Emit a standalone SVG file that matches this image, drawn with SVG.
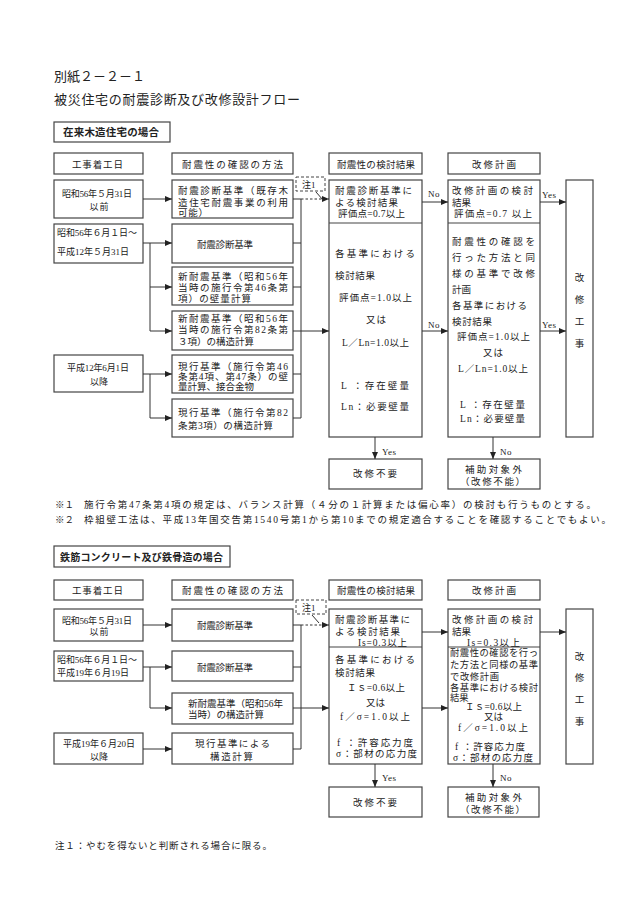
<svg xmlns="http://www.w3.org/2000/svg" width="630" height="915" viewBox="0 0 630 915">
<defs>
<style>
.b{fill:#fff;stroke:#444;stroke-width:1.2}
.d{fill:none;stroke:#444;stroke-width:1;stroke-dasharray:3,2}
.c{fill:none;stroke:#333;stroke-width:1}
.cd{fill:none;stroke:#333;stroke-width:1;stroke-dasharray:2.5,2}
.dv{stroke:#444;stroke-width:1.2}
.t{font-family:"Liberation Serif","Noto Sans CJK JP",serif;font-size:9.5px;fill:#222}
.dt{font-size:9px}
.s{font-size:9.3px}
.ti{font-size:13px}
.h{font-family:"Noto Sans CJK JP",sans-serif;font-weight:bold;font-size:10.5px;fill:#222}
.l{font-family:"Liberation Serif",serif;font-size:9px;fill:#222;letter-spacing:0.5px}
.m{text-anchor:middle}
</style>
<marker id="ah" markerWidth="7" markerHeight="6" refX="7" refY="3" orient="auto" markerUnits="userSpaceOnUse">
<path d="M0,0 L7,3 L0,6 z" fill="#222"/>
</marker>
</defs>
<rect width="630" height="915" fill="#fff"/>

<g id="title">
<text class="t ti" x="54" y="81" textLength="91" lengthAdjust="spacing">別紙２－２－１</text>
<text class="t ti" x="54" y="104" textLength="246" lengthAdjust="spacing">被災住宅の耐震診断及び改修設計フロー</text>
</g>

<!-- ===== Section 1 ===== -->
<g id="s1-label">
<rect class="b" x="54" y="122" width="116" height="20"/>
<text class="h" x="63" y="136" textLength="96" lengthAdjust="spacing">在来木造住宅の場合</text>
</g>

<g id="s1-hdr-start"><rect class="b" x="54" y="153" width="89" height="21"/><text class="t" x="72" y="167.5" textLength="51" lengthAdjust="spacing">工事着工日</text></g>
<g id="s1-hdr-method"><rect class="b" x="172" y="153" width="121" height="21"/><text class="t" x="182" y="167.5" textLength="101" lengthAdjust="spacing">耐震性の確認の方法</text></g>
<g id="s1-hdr-result"><rect class="b" x="329" y="153" width="93" height="21"/><text class="t" x="337" y="167.5" textLength="78" lengthAdjust="spacing">耐震性の検討結果</text></g>
<g id="s1-hdr-plan"><rect class="b" x="448" y="153" width="92" height="21"/><text class="t" x="472" y="167.5" textLength="44" lengthAdjust="spacing">改修計画</text></g>

<g id="s1-date1"><rect class="b" x="54" y="180" width="89" height="38"/>
<text class="t dt" x="62" y="197" textLength="70" lengthAdjust="spacing">昭和56年５月31日</text>
<text class="t dt m" x="99" y="210" textLength="19" lengthAdjust="spacing">以前</text></g>
<g id="s1-date2"><rect class="b" x="54" y="224" width="89" height="39"/>
<text class="t dt" x="57" y="236" textLength="80" lengthAdjust="spacing">昭和56年６月１日～</text>
<text class="t dt" x="57" y="255" textLength="72" lengthAdjust="spacing">平成12年５月31日</text></g>
<g id="s1-date3"><rect class="b" x="54" y="355" width="89" height="37"/>
<text class="t dt" x="67" y="371" textLength="62" lengthAdjust="spacing">平成12年6月1日</text>
<text class="t dt m" x="99" y="385" textLength="18" lengthAdjust="spacing">以降</text></g>

<g id="s1-m1"><rect class="b" x="172" y="180" width="121" height="38"/>
<text class="t" x="178" y="194" textLength="110" lengthAdjust="spacing">耐震診断基準（既存木</text>
<text class="t" x="178" y="206" textLength="110" lengthAdjust="spacing">造住宅耐震事業の利用</text>
<text class="t" x="178" y="216" textLength="30" lengthAdjust="spacing">可能）</text></g>
<g id="s1-m2"><rect class="b" x="172" y="224" width="121" height="39"/>
<text class="t" x="197" y="248" textLength="56" lengthAdjust="spacing">耐震診断基準</text></g>
<g id="s1-m3"><rect class="b" x="172" y="267" width="121" height="38"/>
<text class="t" x="178" y="279.5" textLength="110" lengthAdjust="spacing">新耐震基準（昭和56年</text>
<text class="t" x="178" y="290.5" textLength="110" lengthAdjust="spacing">当時の施行令第46条第</text>
<text class="t" x="178" y="301.5" textLength="73" lengthAdjust="spacing">項）の壁量計算</text></g>
<g id="s1-m4"><rect class="b" x="172" y="311" width="121" height="39"/>
<text class="t" x="178" y="322" textLength="110" lengthAdjust="spacing">新耐震基準（昭和56年</text>
<text class="t" x="178" y="333" textLength="110" lengthAdjust="spacing">当時の施行令第82条第</text>
<text class="t" x="178" y="345" textLength="76" lengthAdjust="spacing">３項）の構造計算</text></g>
<g id="s1-m5"><rect class="b" x="172" y="355" width="121" height="38"/>
<text class="t" x="178" y="369.5" textLength="110" lengthAdjust="spacing">現行基準（施行令第46</text>
<text class="t" x="178" y="379.5" textLength="110" lengthAdjust="spacing">条第4項、第47条）の壁</text>
<text class="t" x="178" y="389.5" textLength="76" lengthAdjust="spacing">量計算、接合金物</text></g>
<g id="s1-m6"><rect class="b" x="172" y="399" width="121" height="38"/>
<text class="t" x="178" y="415.5" textLength="110" lengthAdjust="spacing">現行基準（施行令第82</text>
<text class="t" x="178" y="428.5" textLength="95" lengthAdjust="spacing">条第3項）の構造計算</text></g>

<g id="s1-result"><rect class="b" x="329" y="180" width="93" height="257"/>
<line class="dv" x1="329" y1="223" x2="422" y2="223"/>
<text class="t" x="335" y="194" textLength="77" lengthAdjust="spacing">耐震診断基準に</text>
<text class="t" x="335" y="206" textLength="63" lengthAdjust="spacing">よる検討結果</text>
<text class="t" x="338" y="217" textLength="67" lengthAdjust="spacing">評価点=0.7以上</text>
<text class="t" x="335" y="257" textLength="80" lengthAdjust="spacing">各基準における</text>
<text class="t" x="335" y="279" textLength="40" lengthAdjust="spacing">検討結果</text>
<text class="t" x="339" y="301" textLength="73" lengthAdjust="spacing">評価点=1.0以上</text>
<text class="t" x="366" y="323" textLength="20" lengthAdjust="spacing">又は</text>
<text class="t" x="342" y="346" textLength="67" lengthAdjust="spacing">L／Ln=1.0以上</text>
<text class="t" x="341" y="389" textLength="68" lengthAdjust="spacing">L ：存在壁量</text>
<text class="t" x="341" y="410" textLength="68" lengthAdjust="spacing">Ln：必要壁量</text></g>

<g id="s1-plan"><rect class="b" x="448" y="180" width="92" height="257"/>
<line class="dv" x1="448" y1="223" x2="540" y2="223"/>
<text class="t" x="452" y="194" textLength="81" lengthAdjust="spacing">改修計画の検討</text>
<text class="t" x="452" y="206">結果</text>
<text class="t" x="454" y="217" textLength="78" lengthAdjust="spacing">評価点=0.7 以上</text>
<text class="t" x="452" y="245" textLength="83" lengthAdjust="spacing">耐震性の確認を</text>
<text class="t" x="452" y="261" textLength="83" lengthAdjust="spacing">行った方法と同</text>
<text class="t" x="452" y="277" textLength="83" lengthAdjust="spacing">様の基準で改修</text>
<text class="t" x="452" y="293">計画</text>
<text class="t" x="452" y="309" textLength="75" lengthAdjust="spacing">各基準における</text>
<text class="t" x="452" y="325" textLength="40" lengthAdjust="spacing">検討結果</text>
<text class="t" x="457" y="340" textLength="73" lengthAdjust="spacing">評価点=1.0以上</text>
<text class="t" x="483" y="356" textLength="20" lengthAdjust="spacing">又は</text>
<text class="t" x="458" y="372" textLength="70" lengthAdjust="spacing">L／Ln=1.0以上</text>
<text class="t" x="460" y="408" textLength="65" lengthAdjust="spacing">L ：存在壁量</text>
<text class="t" x="460" y="422" textLength="65" lengthAdjust="spacing">Ln：必要壁量</text></g>

<g id="s1-work"><rect class="b" x="566" y="180" width="27" height="257"/>
<text class="t m" x="579.5" y="281">改</text>
<text class="t m" x="579.5" y="303">修</text>
<text class="t m" x="579.5" y="325">工</text>
<text class="t m" x="579.5" y="347">事</text></g>

<g id="s1-nofix"><rect class="b" x="329" y="459" width="93" height="30"/>
<text class="t" x="353" y="477" textLength="44" lengthAdjust="spacing">改修不要</text></g>
<g id="s1-noaid"><rect class="b" x="448" y="459" width="92" height="30"/>
<text class="t" x="465" y="473" textLength="57" lengthAdjust="spacing">補助対象外</text>
<text class="t" x="460" y="485" textLength="65" lengthAdjust="spacing">（改修不能）</text></g>

<g id="s1-note1">
<rect class="d" x="296" y="177" width="29" height="14"/>
<text class="t" x="302" y="188" style="font-size:9px">注1</text>
</g>

<g id="s1-connectors">
<line class="c" x1="143" y1="199" x2="172" y2="199" marker-end="url(#ah)"/>
<line class="c" x1="143" y1="243" x2="172" y2="243" marker-end="url(#ah)"/>
<polyline class="c" points="150,243 150,331"/>
<line class="c" x1="150" y1="287" x2="172" y2="287" marker-end="url(#ah)"/>
<line class="c" x1="150" y1="331" x2="172" y2="331" marker-end="url(#ah)"/>
<line class="c" x1="143" y1="374" x2="172" y2="374" marker-end="url(#ah)"/>
<polyline class="c" points="150,374 150,418"/>
<line class="c" x1="150" y1="418" x2="172" y2="418" marker-end="url(#ah)"/>
<line class="c" x1="293" y1="199" x2="301" y2="199"/>
<line class="c" x1="293" y1="243" x2="301" y2="243"/>
<line class="c" x1="293" y1="287" x2="301" y2="287"/>
<line class="c" x1="293" y1="331" x2="301" y2="331"/>
<line class="c" x1="293" y1="374" x2="301" y2="374"/>
<line class="c" x1="293" y1="418" x2="301" y2="418"/>
<line class="c" x1="301" y1="199" x2="301" y2="418"/>
<line class="cd" x1="301" y1="199" x2="329" y2="199" marker-end="url(#ah)"/>
<line class="c" x1="316" y1="192" x2="323" y2="200"/>
<line class="c" x1="301" y1="331" x2="329" y2="331" marker-end="url(#ah)"/>
<line class="c" x1="422" y1="202" x2="448" y2="202" marker-end="url(#ah)"/>
<text class="l" x="428" y="197">No</text>
<line class="c" x1="540" y1="202" x2="566" y2="202" marker-end="url(#ah)"/>
<text class="l" x="542" y="198">Yes</text>
<line class="c" x1="422" y1="331" x2="448" y2="331" marker-end="url(#ah)"/>
<text class="l" x="428" y="328">No</text>
<line class="c" x1="540" y1="331" x2="566" y2="331" marker-end="url(#ah)"/>
<text class="l" x="542" y="328">Yes</text>
<line class="c" x1="375" y1="437" x2="375" y2="459" marker-end="url(#ah)"/>
<text class="l" x="382" y="455">Yes</text>
<line class="c" x1="493" y1="437" x2="493" y2="459" marker-end="url(#ah)"/>
<text class="l" x="500" y="455">No</text>
</g>

<g id="s1-footnotes">
<text class="t" x="55" y="508">※１</text>
<text class="t" x="84" y="508" textLength="512" lengthAdjust="spacing">施行令第47条第4項の規定は、バランス計算（４分の１計算または偏心率）の検討も行うものとする。</text>
<text class="t" x="55" y="523">※２</text>
<text class="t" x="84" y="523" textLength="527" lengthAdjust="spacing">枠組壁工法は、平成13年国交告第1540号第1から第10までの規定適合することを確認することでもよい。</text>
</g>

<!-- ===== Section 2 ===== -->
<g id="s2-label">
<rect class="b" x="54" y="546" width="176" height="21"/>
<text class="h" x="60" y="560.5" textLength="163" lengthAdjust="spacing" style="font-size:10px">鉄筋コンクリート及び鉄骨造の場合</text>
</g>

<g id="s2-hdr-start"><rect class="b" x="54" y="580" width="89" height="20"/><text class="t" x="72" y="594" textLength="51" lengthAdjust="spacing">工事着工日</text></g>
<g id="s2-hdr-method"><rect class="b" x="172" y="580" width="121" height="20"/><text class="t" x="182" y="594" textLength="101" lengthAdjust="spacing">耐震性の確認の方法</text></g>
<g id="s2-hdr-result"><rect class="b" x="329" y="580" width="93" height="20"/><text class="t" x="337" y="594" textLength="78" lengthAdjust="spacing">耐震性の検討結果</text></g>
<g id="s2-hdr-plan"><rect class="b" x="448" y="580" width="92" height="20"/><text class="t" x="472" y="594" textLength="44" lengthAdjust="spacing">改修計画</text></g>

<g id="s2-date1"><rect class="b" x="54" y="609" width="89" height="32"/>
<text class="t dt" x="62" y="624" textLength="70" lengthAdjust="spacing">昭和56年５月31日</text>
<text class="t dt m" x="99" y="635" textLength="19" lengthAdjust="spacing">以前</text></g>
<g id="s2-date2"><rect class="b" x="54" y="651" width="89" height="30"/>
<text class="t dt" x="57" y="663" textLength="80" lengthAdjust="spacing">昭和56年６月１日～</text>
<text class="t dt" x="57" y="676" textLength="72" lengthAdjust="spacing">平成19年６月19日</text></g>
<g id="s2-date3"><rect class="b" x="54" y="733" width="89" height="31"/>
<text class="t dt" x="63" y="746.5" textLength="72" lengthAdjust="spacing">平成19年６月20日</text>
<text class="t dt m" x="99" y="760" textLength="18" lengthAdjust="spacing">以降</text></g>

<g id="s2-m1"><rect class="b" x="172" y="609" width="121" height="32"/>
<text class="t" x="197" y="629" textLength="56" lengthAdjust="spacing">耐震診断基準</text></g>
<g id="s2-m2"><rect class="b" x="172" y="651" width="121" height="30"/>
<text class="t" x="197" y="670.5" textLength="56" lengthAdjust="spacing">耐震診断基準</text></g>
<g id="s2-m3"><rect class="b" x="172" y="693" width="121" height="31"/>
<text class="t" x="188" y="707" textLength="95" lengthAdjust="spacing">新耐震基準（昭和56年</text>
<text class="t" x="188" y="718" textLength="76" lengthAdjust="spacing">当時）の構造計算</text></g>
<g id="s2-m4"><rect class="b" x="172" y="733" width="121" height="31"/>
<text class="t" x="195" y="746.5" textLength="75" lengthAdjust="spacing">現行基準による</text>
<text class="t" x="210" y="760" textLength="43" lengthAdjust="spacing">構造計算</text></g>

<g id="s2-result"><rect class="b" x="329" y="609" width="93" height="155"/>
<line class="dv" x1="329" y1="647" x2="422" y2="647"/>
<text class="t" x="335" y="623" textLength="75" lengthAdjust="spacing">耐震診断基準に</text>
<text class="t" x="335" y="635" textLength="65" lengthAdjust="spacing">よる検討結果</text>
<text class="t" x="358" y="645.5" textLength="49" lengthAdjust="spacing">Is=0.3以上</text>
<text class="t" x="335" y="663" textLength="80" lengthAdjust="spacing">各基準における</text>
<text class="t" x="335" y="676" textLength="40" lengthAdjust="spacing">検討結果</text>
<text class="t" x="347" y="691" textLength="58" lengthAdjust="spacing">Ｉｓ=0.6以上</text>
<text class="t" x="366" y="706" textLength="19" lengthAdjust="spacing">又は</text>
<text class="t" x="340" y="720" textLength="70" lengthAdjust="spacing">f／σ=1.0以上</text>
<text class="t" x="337" y="746" textLength="76" lengthAdjust="spacing">f ：許容応力度</text>
<text class="t" x="336" y="757" textLength="81" lengthAdjust="spacing">σ：部材の応力度</text></g>

<g id="s2-plan"><rect class="b" x="448" y="609" width="92" height="155"/>
<line class="dv" x1="448" y1="647" x2="540" y2="647"/>
<text class="t" x="452" y="623" textLength="81" lengthAdjust="spacing">改修計画の検討</text>
<text class="t" x="452" y="635">結果</text>
<text class="t" x="467" y="645.5" textLength="53" lengthAdjust="spacing">Is=0.3以上</text>
<text class="t s" x="450" y="656" textLength="88" lengthAdjust="spacing">耐震性の確認を行っ</text>
<text class="t s" x="450" y="668" textLength="88" lengthAdjust="spacing">た方法と同様の基準</text>
<text class="t s" x="450" y="680" textLength="49" lengthAdjust="spacing">で改修計画</text>
<text class="t s" x="450" y="690.5" textLength="88" lengthAdjust="spacing">各基準における検討</text>
<text class="t s" x="450" y="700.5">結果</text>
<text class="t" x="465" y="710" textLength="57" lengthAdjust="spacing">Ｉｓ=0.6以上</text>
<text class="t" x="484" y="720" textLength="19" lengthAdjust="spacing">又は</text>
<text class="t" x="458" y="731" textLength="70" lengthAdjust="spacing">f／σ=1.0以上</text>
<text class="t" x="455" y="750" textLength="70" lengthAdjust="spacing">f ：許容応力度</text>
<text class="t" x="453" y="761" textLength="80" lengthAdjust="spacing">σ：部材の応力度</text></g>

<g id="s2-work"><rect class="b" x="566" y="609" width="27" height="155"/>
<text class="t m" x="579.5" y="660">改</text>
<text class="t m" x="579.5" y="681">修</text>
<text class="t m" x="579.5" y="703">工</text>
<text class="t m" x="579.5" y="725">事</text></g>

<g id="s2-nofix"><rect class="b" x="329" y="787" width="93" height="30"/>
<text class="t" x="353" y="806" textLength="44" lengthAdjust="spacing">改修不要</text></g>
<g id="s2-noaid"><rect class="b" x="448" y="787" width="91" height="30"/>
<text class="t" x="465" y="801" textLength="57" lengthAdjust="spacing">補助対象外</text>
<text class="t" x="460" y="813" textLength="65" lengthAdjust="spacing">（改修不能）</text></g>

<g id="s2-note1">
<rect class="d" x="296" y="600" width="30" height="14"/>
<text class="t" x="302" y="611" style="font-size:9px">注1</text>
</g>

<g id="s2-connectors">
<line class="c" x1="143" y1="625" x2="172" y2="625" marker-end="url(#ah)"/>
<line class="c" x1="143" y1="667" x2="172" y2="667" marker-end="url(#ah)"/>
<polyline class="c" points="150,667 150,708"/>
<line class="c" x1="150" y1="708" x2="172" y2="708" marker-end="url(#ah)"/>
<line class="c" x1="143" y1="749" x2="172" y2="749" marker-end="url(#ah)"/>
<line class="c" x1="293" y1="625" x2="301" y2="625"/>
<line class="c" x1="293" y1="667" x2="301" y2="667"/>
<line class="c" x1="293" y1="708" x2="301" y2="708"/>
<line class="c" x1="293" y1="749" x2="301" y2="749"/>
<line class="c" x1="301" y1="625" x2="301" y2="749"/>
<line class="cd" x1="301" y1="625" x2="329" y2="625" marker-end="url(#ah)"/>
<line class="c" x1="312" y1="615" x2="319" y2="623"/>
<line class="c" x1="301" y1="708" x2="329" y2="708" marker-end="url(#ah)"/>
<line class="c" x1="422" y1="632" x2="448" y2="632" marker-end="url(#ah)"/>
<line class="c" x1="540" y1="632" x2="566" y2="632" marker-end="url(#ah)"/>
<line class="c" x1="422" y1="708" x2="448" y2="708" marker-end="url(#ah)"/>
<line class="c" x1="375" y1="764" x2="375" y2="787" marker-end="url(#ah)"/>
<text class="l" x="382" y="781">Yes</text>
<line class="c" x1="493" y1="764" x2="493" y2="787" marker-end="url(#ah)"/>
<text class="l" x="500" y="781">No</text>
</g>

<g id="s2-footnote">
<text class="t" x="55" y="849" textLength="217" lengthAdjust="spacing">注１：やむを得ないと判断される場合に限る。</text>
</g>
</svg>
